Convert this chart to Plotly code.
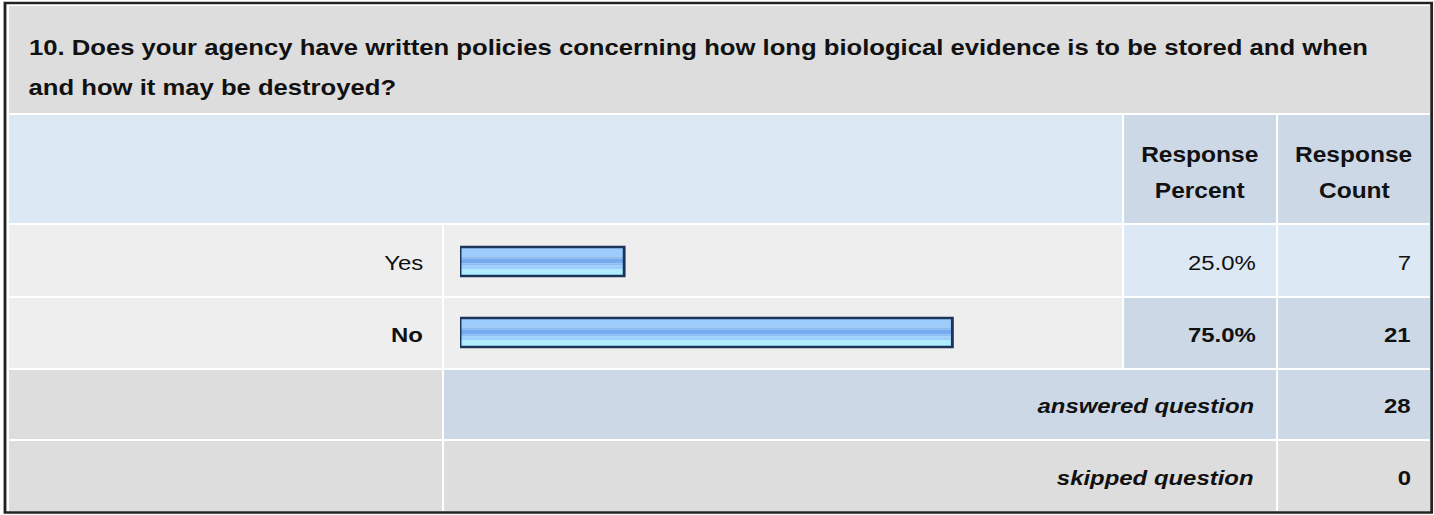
import plotly.graph_objects as go

# ---------------- data ----------------
title_lines = [
    "10. Does your agency have written policies concerning how long biological evidence is to be stored and when",
    "and how it may be destroyed?",
]
answers = ["Yes", "No"]
percents = [25.0, 75.0]
counts = [7, 21]
answered_label = "answered question"
answered_count = 28
skipped_label = "skipped question"
skipped_count = 0
col_headers = [["Response", "Percent"], ["Response", "Count"]]

# ---------------- layout helpers ----------------
W, H = 1434, 515          # reference (displayed) size
STRETCH = 1.14            # the reference is a horizontally widened render
FIG_W = round(W / STRETCH)
FONT = "Liberation Sans, Arial, sans-serif"
FS = 21.5
FS_BODY = 21
FS_TITLE = 22.5


def px(x):
    return x / W


def py(y):
    return 1 - y / H


GREY = "#DDDDDD"
ROWGREY = "#EEEEEE"
LIGHTBLUE = "#DDE8F5"
BLUEGREY = "#CCD8E6"

shapes = []


def cell(x0, y0, x1, y1, color):
    shapes.append(dict(type="rect", xref="paper", yref="paper",
                       x0=px(x0), x1=px(x1), y0=py(y1), y1=py(y0),
                       fillcolor=color, line=dict(width=0), layer="below"))


# outer frame
shapes.append(dict(type="rect", xref="paper", yref="paper",
                   x0=px(5), x1=px(1431.5), y0=py(512.5), y1=py(3),
                   fillcolor="white", line=dict(color="#222222", width=2.5), layer="below"))

# title
cell(9, 6, 1430, 113, GREY)
# header row
cell(9, 115, 1122, 223, LIGHTBLUE)
cell(1124, 115, 1276, 223, BLUEGREY)
cell(1278, 115, 1430, 223, BLUEGREY)
# Yes row
cell(9, 225, 442, 296, ROWGREY)
cell(444, 225, 1122, 296, ROWGREY)
cell(1124, 225, 1276, 296, LIGHTBLUE)
cell(1278, 225, 1430, 296, LIGHTBLUE)
# No row
cell(9, 298, 442, 368, ROWGREY)
cell(444, 298, 1122, 368, ROWGREY)
cell(1124, 298, 1276, 368, BLUEGREY)
cell(1278, 298, 1430, 368, BLUEGREY)
# answered row
cell(9, 370, 442, 439, GREY)
cell(444, 370, 1276, 439, BLUEGREY)
cell(1278, 370, 1430, 439, BLUEGREY)
# skipped row
cell(9, 441, 442, 511, GREY)
cell(444, 441, 1276, 511, GREY)
cell(1278, 441, 1430, 511, GREY)

annotations = []


def text(t, x, y, anchor="left", bold=False, italic=False, size=FS):
    annotations.append(dict(
        text=t, xref="paper", yref="paper", x=px(x), y=py(y),
        xanchor=anchor, yanchor="middle", showarrow=False,
        font=dict(family=FONT, size=size, color="#111111",
                  weight="bold" if bold else "normal",
                  style="italic" if italic else "normal"),
    ))


text(title_lines[0], 26, 47, bold=True, size=FS_TITLE)
text(title_lines[1], 26, 87, bold=True, size=FS_TITLE)
for (l1, l2), cx in zip(col_headers, [1200, 1354]):
    text(l1, cx, 155, anchor="center", bold=True)
    text(l2, cx, 191, anchor="center", bold=True)

row_y = [262, 334]
max_i = percents.index(max(percents))
for i, (a, p, c) in enumerate(zip(answers, percents, counts)):
    b = (i == max_i)
    text(a, 425, row_y[i], anchor="right", bold=b, size=FS_BODY)
    text(f"{p:.1f}%", 1259, row_y[i], anchor="right", bold=b, size=FS_BODY)
    text(str(c), 1414, row_y[i], anchor="right", bold=b, size=FS_BODY)

text(answered_label, 1256, 405, anchor="right", bold=True, italic=True, size=FS_BODY)
text(str(answered_count), 1414, 405, anchor="right", bold=True, size=FS_BODY)
text(skipped_label, 1256, 477, anchor="right", bold=True, italic=True, size=FS_BODY)
text(str(skipped_count), 1414, 477, anchor="right", bold=True, size=FS_BODY)

# ---------------- bars (striped gradient look) ----------------
CAT = 71.0           # px per category
BAR_PX = 29.0        # bar thickness in px
# stripes: (top px, bottom px, color) measured from the bar's top edge
stripes = [
    (0, 9.5, "#9CCCFC"),
    (9.5, 11.5, "#88BAF4"),
    (11.5, 16.5, "#74AAEE"),
    (16.5, 18.5, "#88BCF6"),
    (18.5, 22.5, "#9CD0FE"),
    (22.5, 29, "#AEEEFF"),
]

fig = go.Figure()
for top, bot, col in stripes:
    fig.add_trace(go.Bar(
        x=percents, y=answers, orientation="h",
        width=(bot - top) / CAT,
        offset=(top - BAR_PX / 2) / CAT,
        marker=dict(color=col, line=dict(width=0)),
        hoverinfo="skip", showlegend=False,
    ))
# outline
fig.add_trace(go.Bar(
    x=percents, y=answers, orientation="h",
    width=BAR_PX / CAT, offset=-BAR_PX / 2 / CAT,
    marker=dict(color="rgba(0,0,0,0)", line=dict(color="#1C3458", width=2.5)),
    hovertemplate="%{y}: %{x:.1f}%<extra></extra>", showlegend=False,
))

bar_x0, bar_x1 = 460, 1122
px_per_pct = 6.564
fig.update_layout(
    width=FIG_W, height=H, autosize=False,
    margin=dict(l=0, r=0, t=0, b=0),
    paper_bgcolor="white", plot_bgcolor="rgba(0,0,0,0)",
    barmode="overlay",
    shapes=shapes, annotations=annotations,
    xaxis=dict(domain=[px(bar_x0), px(bar_x1)],
               range=[0, (bar_x1 - bar_x0) / px_per_pct],
               visible=False, fixedrange=True),
    yaxis=dict(domain=[py(368), py(226)], type="category",
               categoryorder="array", categoryarray=answers,
               range=[1.5, -0.5], visible=False, fixedrange=True),
)

post = (
    "document.body.style.margin='0';document.body.style.overflow='hidden';"
    "var gd=document.getElementById('{plot_id}');"
    "gd.style.transformOrigin='0 0';"
    f"gd.style.transform='scaleX({STRETCH})';"
)
fig.write_html("out.html", config={"displayModeBar": False}, post_script=post)
